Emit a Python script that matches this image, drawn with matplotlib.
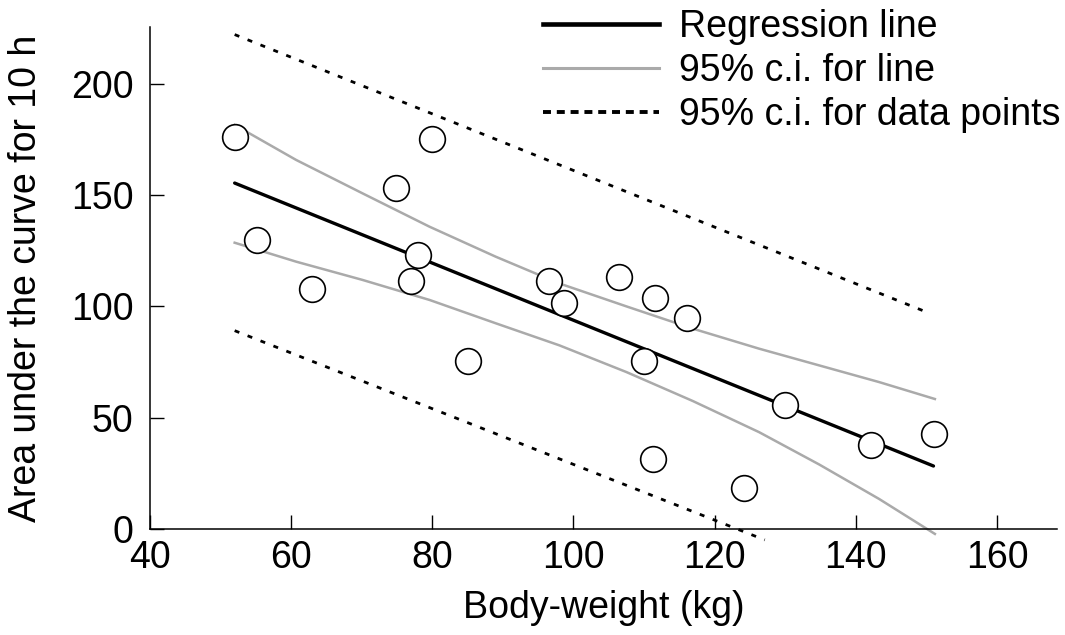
import numpy as np
import matplotlib
matplotlib.use("Agg")
import matplotlib.pyplot as plt
from matplotlib.lines import Line2D

plt.rcParams['font.family'] = ['Liberation Sans', 'DejaVu Sans']

# observed data points (body weight kg, AUC 10 h)
weight = [52.0, 55.1, 62.9, 74.8, 80.0, 78.0, 77.0, 85.0, 96.6, 98.7,
          106.5, 111.5, 110.0, 116.1, 111.2, 124.2, 129.9, 142.1, 151.1]
auc = [176.1, 129.8, 107.8, 153.2, 175.2, 123.1, 111.4, 75.5, 111.4, 101.5,
       113.2, 103.8, 75.5, 94.8, 31.4, 18.4, 55.7, 37.7, 42.7]

# regression line end points
reg_x = [52.0, 151.0]
reg_y = [155.4, 28.3]

# 95% c.i. for line
ci_x = [52.0, 60.7, 70.1, 79.6, 89.0, 98.0, 107.5, 116.9, 126.3, 134.8, 143.3, 151.2]
ci_upper = [181.5, 165.8, 150.8, 135.8, 122.3, 110.3, 100.0, 90.0, 81.0, 73.5, 66.0, 58.4]
ci_lower = [128.6, 120.1, 111.9, 102.9, 92.4, 82.5, 70.5, 57.5, 43.5, 29.0, 13.5, -2.2]

# 95% c.i. for data points
pi_up_x = [52.0, 149.5]
pi_up_y = [222.1, 98.1]
pi_lo_x = [52.0, 127.1]
pi_lo_y = [89.1, -4.9]

fig = plt.figure(figsize=(10.65, 6.35), dpi=100)
ax = fig.add_axes([0.1408, 0.1669, 0.9925 - 0.1408, 0.9575 - 0.1669])

dots = (0, (1.8, 3.2))
ax.plot(pi_up_x, pi_up_y, color='black', lw=2.0, linestyle=dots, clip_on=False)
ax.plot(pi_lo_x, pi_lo_y, color='black', lw=2.0, linestyle=dots, clip_on=False)
ax.plot(ci_x, ci_upper, color='#aaaaaa', lw=1.8, clip_on=False)
ax.plot(ci_x, ci_lower, color='#aaaaaa', lw=1.8, clip_on=False)
ax.plot(reg_x, reg_y, color='black', lw=2.4, solid_capstyle='round')
ax.plot(weight, auc, 'o', ms=18.5, mfc='white', mec='black', mew=1.2,
        clip_on=False, zorder=5)

ax.set_xlim(40, 168.5)
ax.set_ylim(0, 225.5)
ax.set_xticks([40, 60, 80, 100, 120, 140, 160])
ax.set_yticks([0, 50, 100, 150, 200])
for s in ['top', 'right']:
    ax.spines[s].set_visible(False)
for s in ['left', 'bottom']:
    ax.spines[s].set_linewidth(1.1)
ax.tick_params(direction='in', length=10, width=1.0, labelsize=27)
ax.tick_params(axis='x', pad=8)
ax.tick_params(axis='y', pad=12)

ax.set_xlabel('Body-weight (kg)', fontsize=27)
ax.set_ylabel('Area under the curve for 10 h', fontsize=27)
ax.xaxis.set_label_coords(0.5, -0.122)
ax.yaxis.set_label_coords(-0.117, 0.5)

handles = [Line2D([], [], color='black', lw=3.3),
           Line2D([], [], color='#aaaaaa', lw=2.2),
           Line2D([], [], color='black', lw=2.8, linestyle=(0, (2.05, 1.5)))]
labels = ['Regression line', '95% c.i. for line', '95% c.i. for data points']
fig.legend(handles, labels, loc='upper left', bbox_to_anchor=(0.51, 0.986),
           frameon=False, fontsize=27, handlelength=3.1, handletextpad=0.53,
           labelspacing=0.22, borderpad=0, borderaxespad=0)

fig.savefig('out.png', dpi=100)
